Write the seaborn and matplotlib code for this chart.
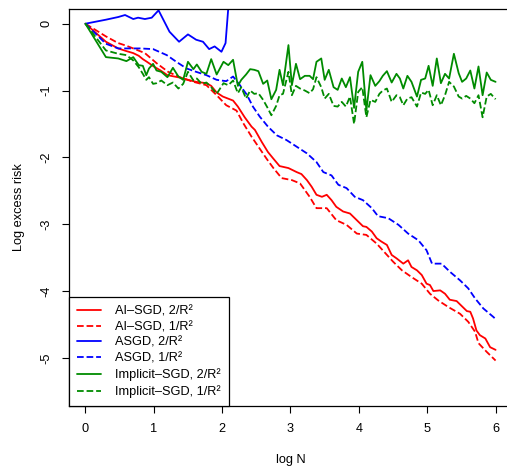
import numpy as np
import pandas as pd
import matplotlib
matplotlib.use("Agg")
import matplotlib.pyplot as plt
import seaborn as sns

# ---------------- data ----------------
ai2_x = [0, 0.30, 0.48, 0.60, 0.70, 0.78, 0.84, 0.90, 1.00, 1.10, 1.20, 1.30, 1.40, 1.50, 1.62, 1.77,
         1.84, 1.92, 2.01, 2.11, 2.16, 2.23, 2.33, 2.43, 2.48, 2.58, 2.67, 2.75, 2.84, 2.97, 3.09, 3.16,
         3.24, 3.31, 3.38, 3.46, 3.53, 3.60, 3.67, 3.77, 3.87, 3.97, 4.06, 4.11, 4.19, 4.26, 4.33, 4.41,
         4.48, 4.55, 4.65, 4.72, 4.77, 4.85, 4.92, 4.99, 5.04, 5.09, 5.19, 5.26, 5.33, 5.43, 5.51, 5.58,
         5.63, 5.67, 5.72, 5.77, 5.85, 5.92, 6.0]
ai2_y = [0, -0.27, -0.37, -0.41, -0.44, -0.48, -0.53, -0.57, -0.64, -0.70, -0.77, -0.79, -0.81, -0.84,
         -0.87, -0.89, -0.93, -1.03, -1.09, -1.13, -1.15, -1.24, -1.40, -1.54, -1.59, -1.77, -1.92, -2.02,
         -2.13, -2.16, -2.22, -2.25, -2.34, -2.44, -2.56, -2.59, -2.56, -2.64, -2.74, -2.81, -2.84, -2.94,
         -3.03, -3.04, -3.11, -3.21, -3.26, -3.31, -3.46, -3.51, -3.59, -3.54, -3.64, -3.69, -3.76, -3.89,
         -3.91, -4.00, -3.99, -4.04, -4.13, -4.15, -4.23, -4.30, -4.31, -4.41, -4.59, -4.66, -4.71, -4.84,
         -4.88]

ai1_x = [0, 0.30, 0.48, 0.60, 0.70, 0.87, 1.04, 1.21, 1.38, 1.58, 1.77, 1.92, 2.06, 2.21, 2.31, 2.43,
         2.53, 2.65, 2.75, 2.87, 3.02, 3.14, 3.28, 3.38, 3.53, 3.67, 3.82, 3.97, 4.11, 4.26, 4.50, 4.63,
         4.77, 4.92, 5.04, 5.16, 5.31, 5.48, 5.60, 5.70, 5.75, 5.87, 6.0]
ai1_y = [0, -0.19, -0.29, -0.33, -0.37, -0.44, -0.59, -0.72, -0.80, -0.87, -0.92, -1.07, -1.22, -1.30,
         -1.49, -1.69, -1.84, -2.02, -2.16, -2.31, -2.34, -2.39, -2.59, -2.76, -2.76, -2.94, -3.01, -3.14,
         -3.16, -3.29, -3.56, -3.69, -3.79, -3.89, -4.04, -4.14, -4.24, -4.34, -4.46, -4.61, -4.78, -4.91,
         -5.04]

as2_x = [0, 0.30, 0.48, 0.58, 0.70, 0.77, 0.87, 0.97, 1.07, 1.23, 1.37, 1.50, 1.62, 1.72, 1.81, 1.89,
         1.99, 2.05, 2.11, 2.17]
as2_y = [0, 0.06, 0.10, 0.13, 0.07, 0.09, 0.07, 0.09, 0.20, -0.12, -0.27, -0.16, -0.24, -0.27, -0.38,
         -0.34, -0.42, -0.29, 0.50, 1.50]

as1_x = [0, 0.30, 0.48, 0.60, 0.80, 0.99, 1.19, 1.33, 1.48, 1.62, 1.77, 1.92, 2.06, 2.16, 2.26, 2.36,
         2.45, 2.55, 2.67, 2.80, 2.94, 3.09, 3.24, 3.38, 3.48, 3.60, 3.70, 3.82, 3.94, 4.06, 4.19, 4.28,
         4.43, 4.58, 4.72, 4.87, 4.99, 5.07, 5.21, 5.33, 5.48, 5.60, 5.70, 5.82, 5.97, 6.0]
as1_y = [0, -0.30, -0.37, -0.37, -0.37, -0.38, -0.47, -0.57, -0.67, -0.72, -0.77, -0.84, -0.86, -0.79,
         -0.92, -1.06, -1.24, -1.39, -1.54, -1.67, -1.74, -1.84, -1.94, -2.07, -2.22, -2.27, -2.41, -2.46,
         -2.59, -2.64, -2.76, -2.88, -2.91, -3.01, -3.14, -3.24, -3.39, -3.59, -3.59, -3.71, -3.84, -3.96,
         -4.11, -4.26, -4.39, -4.42]

im_x = [0, 0.30, 0.48, 0.60, 0.70, 0.78, 0.84, 0.89, 0.93, 0.99, 1.04, 1.11, 1.20, 1.28, 1.36, 1.43,
        1.50, 1.58, 1.63, 1.70, 1.77, 1.84, 1.92, 2.02, 2.09, 2.16, 2.23, 2.28, 2.35, 2.41, 2.47, 2.53,
        2.60, 2.66, 2.72, 2.79, 2.84, 2.89, 2.97, 3.02, 3.08, 3.14, 3.21, 3.28, 3.33, 3.38, 3.45, 3.50,
        3.56, 3.63, 3.69, 3.75, 3.81, 3.87, 3.93, 3.99, 4.05, 4.11, 4.17, 4.24, 4.30, 4.35, 4.41, 4.48,
        4.55, 4.60, 4.65, 4.71, 4.77, 4.85, 4.91, 4.97, 5.02, 5.08, 5.14, 5.20, 5.26, 5.32, 5.39, 5.46,
        5.51, 5.57, 5.63, 5.69, 5.75, 5.81, 5.87, 5.93, 6.0]
im2_y = [0, -0.50, -0.52, -0.56, -0.50, -0.62, -0.63, -0.77, -0.67, -0.60, -0.70, -0.72, -0.80, -0.66,
         -0.79, -0.84, -0.57, -0.68, -0.61, -0.72, -0.75, -0.53, -0.76, -0.57, -0.62, -0.54, -0.93, -0.84,
         -0.76, -0.68, -0.69, -0.71, -0.90, -0.85, -1.13, -0.99, -0.69, -0.92, -0.32, -0.92, -0.60, -0.83,
         -0.78, -0.78, -0.83, -0.57, -0.52, -0.84, -0.69, -0.95, -0.99, -0.82, -0.95, -0.80, -1.26, -0.72,
         -0.57, -1.30, -0.77, -0.93, -0.86, -0.78, -0.71, -0.88, -0.75, -0.82, -0.97, -0.78, -0.87, -1.09,
         -0.84, -0.82, -0.63, -0.93, -0.52, -0.89, -0.75, -0.82, -0.45, -0.74, -0.87, -0.82, -0.70, -0.97,
         -0.64, -1.07, -0.73, -0.84, -0.87]
im1_y = [0, -0.40, -0.45, -0.47, -0.55, -0.65, -0.75, -0.84, -0.80, -0.90, -0.89, -0.85, -0.92, -0.88,
         -0.97, -0.90, -0.72, -0.85, -0.82, -0.90, -0.88, -0.95, -1.05, -0.89, -0.92, -0.85, -1.04, -0.95,
         -1.12, -1.00, -1.05, -1.04, -1.14, -1.25, -1.37, -1.23, -1.07, -1.05, -0.72, -1.07, -0.93, -0.97,
         -1.00, -1.04, -0.98, -0.80, -0.95, -1.12, -1.05, -1.23, -1.24, -1.17, -1.24, -1.09, -1.50, -1.02,
         -0.95, -1.40, -1.14, -1.17, -1.05, -1.00, -0.97, -1.17, -1.07, -1.10, -1.22, -1.12, -1.10, -1.24,
         -1.03, -1.05, -0.99, -1.22, -1.07, -1.22, -1.07, -0.87, -0.94, -1.09, -1.12, -1.08, -1.12, -1.19,
         -1.07, -1.40, -1.09, -1.05, -1.13]

x_ticks = [0, 1, 2, 3, 4, 5, 6]
y_ticks = [0, -1, -2, -3, -4, -5]

# ---------------- style ----------------
sns.set_theme(style="ticks")
plt.rcParams['font.family'] = ['Liberation Sans', 'DejaVu Sans']
plt.rcParams['text.color'] = 'black'
plt.rcParams['axes.labelcolor'] = 'black'
plt.rcParams['xtick.color'] = 'black'
plt.rcParams['ytick.color'] = 'black'

FS = 9.2

fig = plt.figure(figsize=(5.07, 4.66), dpi=100)
ax = fig.add_axes([69 / 507, 60 / 466, 443 / 507, 397 / 466])

RED, BLUE, GREEN = "#FF0000", "#0000FF", "#008B00"
LW = 1.3
DASH = (3.5, 3.5)

series = [
    (ai2_x, ai2_y, RED, "-", "AI–SGD, 2/R²"),
    (ai1_x, ai1_y, RED, "--", "AI–SGD, 1/R²"),
    (as2_x, as2_y, BLUE, "-", "ASGD, 2/R²"),
    (as1_x, as1_y, BLUE, "--", "ASGD, 1/R²"),
    (im_x, im2_y, GREEN, "-", "Implicit–SGD, 2/R²"),
    (im_x, im1_y, GREEN, "--", "Implicit–SGD, 1/R²"),
]
for xs, ys, col, ls, lab in series:
    df = pd.DataFrame({"logN": xs, "risk": ys})
    kw = dict(dashes=DASH) if ls == "--" else {}
    sns.lineplot(data=df, x="logN", y="risk", ax=ax, color=col, linewidth=LW,
                 linestyle=ls, label=lab, sort=False, estimator=None, **kw)

ax.set_xlim(-0.24, 6.24)
ax.set_ylim(-5.72, 0.22)
ax.set_xticks(x_ticks)
ax.set_yticks(y_ticks)
ax.set_xticklabels([str(t) for t in x_ticks], fontsize=FS)
ax.set_yticklabels([str(t) for t in y_ticks], fontsize=FS, rotation=90, va="center")
ax.tick_params(axis="both", direction="out", length=5, width=0.8, color="black",
               labelcolor="black", pad=7)
for s in ax.spines.values():
    s.set_visible(True)
    s.set_color("black")
    s.set_linewidth(0.9)
ax.set_xlabel("log N", fontsize=FS, labelpad=14)
ax.set_ylabel("Log excess risk", fontsize=FS, labelpad=11)
ax.grid(False)

leg = ax.legend(loc="lower left", bbox_to_anchor=(0, 0), borderaxespad=0, fontsize=FS,
                frameon=True, fancybox=False, edgecolor="black", framealpha=1,
                handlelength=1.85, handletextpad=1.15, labelspacing=0.3, borderpad=0.62)
leg.get_frame().set_linewidth(0.9)

fig.savefig("out.png", dpi=100)
